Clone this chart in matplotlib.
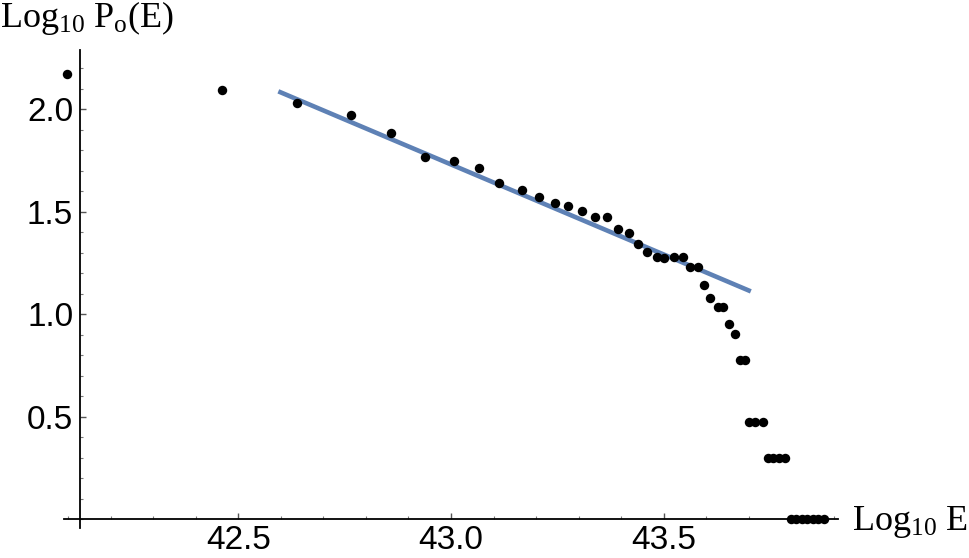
import numpy as np
import matplotlib.pyplot as plt
from matplotlib.ticker import MultipleLocator

plt.rcParams['font.family'] = 'Liberation Sans'
plt.rcParams['mathtext.fontset'] = 'custom'
plt.rcParams['mathtext.rm'] = 'Liberation Serif'
plt.rcParams['mathtext.it'] = 'Liberation Serif:italic'

# binned data
log_e = [42.098, 42.462, 42.639, 42.764, 42.860, 42.940, 43.006, 43.065,
         43.114, 43.166, 43.206, 43.244, 43.274, 43.309, 43.338, 43.366,
         43.392, 43.418, 43.439, 43.462, 43.484, 43.500, 43.524, 43.545,
         43.561, 43.580, 43.594, 43.608, 43.627, 43.639, 43.653, 43.667,
         43.679, 43.691, 43.700, 43.716, 43.733, 43.745, 43.756, 43.771,
         43.785, 43.799, 43.811, 43.825, 43.836, 43.851, 43.864, 43.878]
log_p = [2.171, 2.093, 2.029, 1.974, 1.886, 1.770, 1.746, 1.712,
         1.639, 1.605, 1.571, 1.541, 1.527, 1.502, 1.473, 1.473,
         1.415, 1.395, 1.341, 1.302, 1.278, 1.273, 1.278, 1.281,
         1.230, 1.230, 1.141, 1.079, 1.037, 1.037, 0.954, 0.903,
         0.778, 0.778, 0.477, 0.477, 0.477, 0.301, 0.301, 0.301,
         0.301, 0.0, 0.0, 0.0, 0.0, 0.0, 0.0, 0.0]

# power-law fit
fit_range = [42.594, 43.705]
fit_slope = -0.8785
fit_icpt = 39.507

fig = plt.figure(figsize=(9.69, 5.58), dpi=100)
ax = fig.add_axes([64 / 969, 1 - 528.5 / 558, 774 / 969, 478.5 / 558])

fx = np.array(fit_range)
ax.plot(fx, fit_icpt + fit_slope * fx, color='#5e81b5', lw=3.3,
        solid_capstyle='butt', zorder=3)
ax.plot(log_e, log_p, 'o', color='black', ms=6.8, mec='none', zorder=4,
        clip_on=False)

ax.set_xlim(42.09, 43.91)
ax.set_ylim(-0.045, 2.29)

for s in ['top', 'right']:
    ax.spines[s].set_visible(False)
ax.spines['left'].set_position(('data', 42.128))
ax.spines['bottom'].set_position(('data', 0.0))
for s in ['left', 'bottom']:
    ax.spines[s].set_linewidth(1.3)

ax.xaxis.set_minor_locator(MultipleLocator(0.1))
ax.yaxis.set_minor_locator(MultipleLocator(0.1))
ax.set_xticks([42.5, 43.0, 43.5])
ax.set_yticks([0.5, 1.0, 1.5, 2.0])
ax.tick_params(which='major', direction='in', length=4, width=1,
               color='#555555', labelsize=24, pad=4)
ax.tick_params(which='minor', direction='in', length=2.5, width=0.8,
               color='#777777')
ax.tick_params(axis='y', which='major', pad=5)

fig.text(0.0, 1 - 27 / 558, r'$\mathrm{Log}_{10}\ \mathrm{P}_{\mathrm{o}}(\mathrm{E})$',
         fontsize=26, ha='left', va='baseline')
fig.text(852 / 969, 1 - 530 / 558, r'$\mathrm{Log}_{10}\ \mathrm{E}$',
         fontsize=26, ha='left', va='baseline')

fig.savefig('out.png', dpi=100)
